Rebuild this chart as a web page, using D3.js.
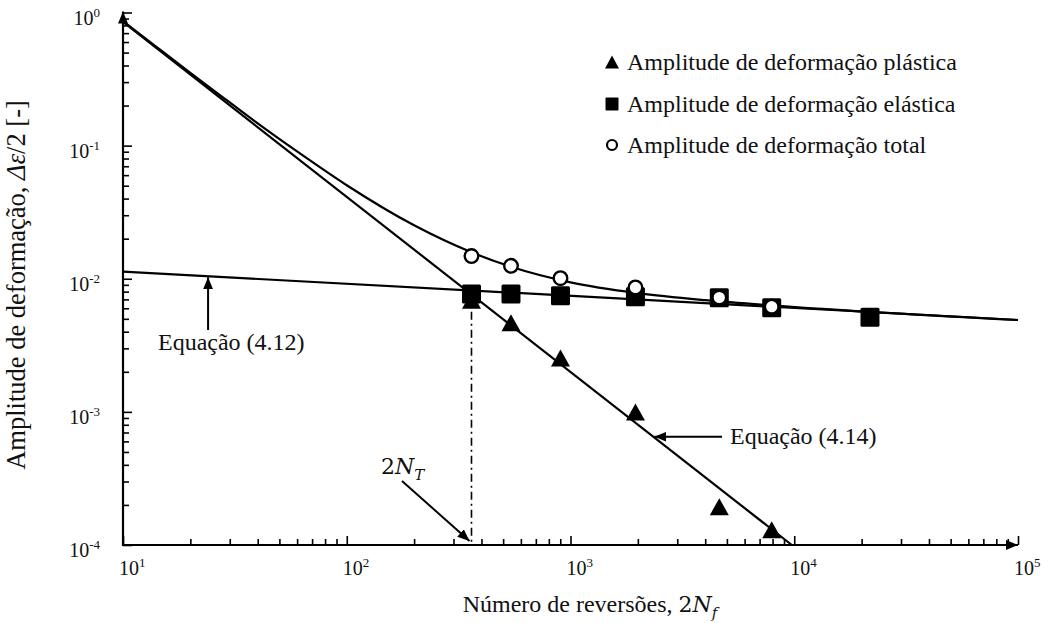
<!DOCTYPE html>
<html><head><meta charset="utf-8">
<script src="https://cdn.jsdelivr.net/npm/d3@7"></script>
<style>
html,body{margin:0;padding:0;background:#fff;}
svg{display:block;font-family:"Liberation Serif","Times New Roman",serif;}
</style></head><body>
<svg id="chart" width="1054" height="623" font-family="Liberation Serif, Times New Roman, serif"></svg>
<script>
// ---------- data ----------
const xTickValues = [10, 100, 1000, 10000, 100000];
const xTickExponents = ["1", "2", "3", "4", "5"];
const yTickValues = [1, 0.1, 0.01, 0.001, 0.0001];
const yTickExponents = ["0", "-1", "-2", "-3", "-4"];

const plasticN   = [361, 542, 902, 1951, 4624, 7930];
const plasticAmp = [0.0069, 0.00468, 0.00254, 0.00100, 0.000194, 0.00013];

const elasticN   = [361, 542, 902, 1951, 4624, 7930, 21800];
const elasticAmp = [0.00768, 0.00768, 0.00746, 0.00733, 0.00719, 0.00606, 0.00513];

const totalN     = [361, 542, 902, 1951, 4624, 7930];
const totalAmp   = [0.0148, 0.0125, 0.0101, 0.0086, 0.00723, 0.00617];

// fitted curves (end points / points)
const plasticFitN   = [10, 9750];
const plasticFitAmp = [0.85, 0.0001];
const elasticFitN   = [10, 100000];
const elasticFitAmp = [0.0113, 0.0049];
const totalFitN     = [10, 14, 20, 30, 40, 62, 100, 200, 361, 542, 1000, 2000, 4000, 9750, 100000];
const totalFitAmp   = [0.861, 0.557, 0.352, 0.211, 0.147, 0.087, 0.0504, 0.0252, 0.0158, 0.0123, 0.0094, 0.0078, 0.0069, 0.00615, 0.0049];

const transitionN = 361;            // 2N_T
const transitionAmp = [0.0077, 0.0001];

const legendLabels = ["Amplitude de deformação plástica", "Amplitude de deformação elástica", "Amplitude de deformação total"];
const xTitleText = "Número de reversões, ";
const yTitleText = "Amplitude de deformação, ";
const eq412 = "Equação (4.12)";
const eq414 = "Equação (4.14)";

// ---------- layout ----------
const svg = d3.select("#chart");
const x = d3.scaleLog().domain([10, 1e5]).range([123, 1018]);
const y = d3.scaleLog().domain([1e-4, 1]).range([545, 12.5]);
const X0 = x.range()[0], X1 = x.range()[1], Y0 = y.range()[0], Y1 = y.range()[1];

const defs = svg.append("defs");
defs.append("marker").attr("id", "ah").attr("viewBox", "0 0 12 10")
  .attr("refX", 12).attr("refY", 5).attr("markerWidth", 12).attr("markerHeight", 10)
  .attr("markerUnits", "userSpaceOnUse").attr("orient", "auto")
  .append("path").attr("d", "M0,0 L12,5 L0,10 Z").attr("fill", "#000");

// minor ticks
const minorX = [], minorY = [];
for (let e = 1; e < 5; e++) for (let k = 2; k <= 9; k++) minorX.push(k * Math.pow(10, e));
for (let e = -4; e < 0; e++) for (let k = 2; k <= 9; k++) minorY.push(k * Math.pow(10, e));

const gx = svg.append("g").attr("transform", `translate(0,${Y0})`);
gx.call(d3.axisBottom(x).tickValues(minorX).tickSize(-6).tickFormat(""));
const gx2 = svg.append("g").attr("transform", `translate(0,${Y0})`);
gx2.call(d3.axisBottom(x).tickValues(xTickValues).tickSize(-9).tickFormat(""));
const gy = svg.append("g").attr("transform", `translate(${X0},0)`);
gy.call(d3.axisLeft(y).tickValues(minorY).tickSize(-6).tickFormat(""));
const gy2 = svg.append("g").attr("transform", `translate(${X0},0)`);
gy2.call(d3.axisLeft(y).tickValues(yTickValues).tickSize(-9).tickFormat(""));
svg.selectAll(".domain").remove();
svg.selectAll(".tick line").attr("stroke", "#000").attr("stroke-width", 1.6);

// axis lines with arrows
svg.append("line").attr("x1", X0).attr("y1", Y0).attr("x2", X1).attr("y2", Y0)
  .attr("stroke", "#000").attr("stroke-width", 2.2).attr("marker-end", "url(#ah)");
svg.append("line").attr("x1", X0).attr("y1", Y0 + 1).attr("x2", X0).attr("y2", Y1 - 1)
  .attr("stroke", "#000").attr("stroke-width", 2.2).attr("marker-end", "url(#ah)");

// tick labels
const xl = svg.append("g").attr("font-size", 20).attr("fill", "#111");
xTickValues.forEach((v, i) => {
  const t = xl.append("text").attr("x", x(v) - 4).attr("y", 575);
  t.append("tspan").text("10");
  t.append("tspan").attr("font-size", 13).attr("dy", -8).text(xTickExponents[i]);
});
const yl = svg.append("g").attr("font-size", 20).attr("fill", "#111");
yTickValues.forEach((v, i) => {
  const t = yl.append("text").attr("x", 100).attr("y", y(v) + 12).attr("text-anchor", "end");
  t.append("tspan").text("10");
  t.append("tspan").attr("font-size", 13).attr("dy", -8).text(yTickExponents[i]);
});

// axis titles
const xt = svg.append("text").attr("x", 590).attr("y", 612).attr("text-anchor", "middle")
  .attr("font-size", 24).attr("fill", "#111");
xt.append("tspan").text(xTitleText);
xt.append("tspan").attr("font-family", "'DejaVu Serif', serif").attr("font-size", 22).text("2");
xt.append("tspan").attr("font-style", "italic").attr("font-family", "'DejaVu Serif', serif").attr("font-size", 22).text("N");
xt.append("tspan").attr("font-style", "italic").attr("font-family", "'DejaVu Serif', serif").attr("font-size", 15).attr("dy", 6).text("f");

const yt = svg.append("text").attr("transform", `translate(25,285) rotate(-90)`)
  .attr("text-anchor", "middle").attr("font-size", 26.5).attr("fill", "#111");
yt.append("tspan").text(yTitleText);
yt.append("tspan").attr("font-style", "italic").text("Δε");
yt.append("tspan").text("/2 [-]");

// ---------- fit lines ----------
const line = d3.line().x(d => x(d[0])).y(d => y(d[1]));
const toPts = (a, b) => a.map((v, i) => [v, b[i]]);
svg.append("path").datum(toPts(plasticFitN, plasticFitAmp)).attr("d", line)
  .attr("fill", "none").attr("stroke", "#000").attr("stroke-width", 2.2);
svg.append("path").datum(toPts(elasticFitN, elasticFitAmp)).attr("d", line)
  .attr("fill", "none").attr("stroke", "#000").attr("stroke-width", 2.2);
svg.append("path").datum(toPts(totalFitN, totalFitAmp)).attr("d", line.curve(d3.curveMonotoneX))
  .attr("fill", "none").attr("stroke", "#000").attr("stroke-width", 2.2);

// 2N_T dash-dot
svg.append("line").attr("x1", x(transitionN)).attr("x2", x(transitionN))
  .attr("y1", y(transitionAmp[0])).attr("y2", y(transitionAmp[1]))
  .attr("stroke", "#000").attr("stroke-width", 1.6).attr("stroke-dasharray", "8,4,2,4");

// ---------- markers ----------
const triPath = (w, h) => `M0,${-h / 2}L${w / 2},${h / 2}L${-w / 2},${h / 2}Z`;
svg.append("g").selectAll("path").data(toPts(plasticN, plasticAmp)).join("path")
  .attr("d", triPath(19, 17)).attr("transform", d => `translate(${x(d[0])},${y(d[1])})`).attr("fill", "#000");
svg.append("g").selectAll("rect").data(toPts(elasticN, elasticAmp)).join("rect")
  .attr("x", d => x(d[0]) - 9.5).attr("y", d => y(d[1]) - 9.5).attr("width", 19).attr("height", 19)
  .attr("rx", 1.5).attr("fill", "#000");
svg.append("g").selectAll("circle").data(toPts(totalN, totalAmp)).join("circle")
  .attr("cx", d => x(d[0])).attr("cy", d => y(d[1])).attr("r", 6.8)
  .attr("fill", "#fff").attr("stroke", "#000").attr("stroke-width", 2.4);

// ---------- annotations ----------
const ann = svg.append("g").attr("font-size", 24).attr("fill", "#111");
// Equação (4.12) -> elastic line at N = 24
const a12N = 24, a12A = elasticFitAmp[0] * Math.pow(elasticFitAmp[1] / elasticFitAmp[0], Math.log10(a12N / 10) / 4);
svg.append("line").attr("x1", x(a12N)).attr("y1", 330).attr("x2", x(a12N)).attr("y2", y(a12A) + 1)
  .attr("stroke", "#000").attr("stroke-width", 2).attr("marker-end", "url(#ah)");
ann.append("text").attr("x", 158).attr("y", 350).text(eq412);
// Equação (4.14) -> plastic line at amplitude 6.5e-4
const a14A = 0.00065;
const a14N = Math.pow(10, Math.log10(plasticFitN[0]) + Math.log10(a14A / plasticFitAmp[0]) / (Math.log10(plasticFitAmp[1] / plasticFitAmp[0]) / Math.log10(plasticFitN[1] / plasticFitN[0])));
svg.append("line").attr("x1", 722).attr("y1", y(a14A)).attr("x2", x(a14N) + 1).attr("y2", y(a14A))
  .attr("stroke", "#000").attr("stroke-width", 2).attr("marker-end", "url(#ah)");
ann.append("text").attr("x", 730).attr("y", y(a14A) + 7).text(eq414);
// 2N_T
const nt = ann.append("text").attr("x", 381).attr("y", 474).attr("font-family", "'DejaVu Serif', serif").attr("font-size", 22);
nt.append("tspan").text("2");
nt.append("tspan").attr("font-style", "italic").text("N");
nt.append("tspan").attr("font-style", "italic").attr("font-size", 15).attr("dy", 6).text("T");
svg.append("line").attr("x1", 402).attr("y1", 481).attr("x2", x(transitionN) - 2).attr("y2", Y0 - 4)
  .attr("stroke", "#000").attr("stroke-width", 2).attr("marker-end", "url(#ah)");

// ---------- legend ----------
const lg = svg.append("g").attr("font-size", 24).attr("fill", "#111");
const legY = [62, 104, 145];
lg.append("path").attr("d", triPath(14, 13)).attr("transform", `translate(612,${legY[0]})`).attr("fill", "#000");
lg.append("rect").attr("x", 605.5).attr("y", legY[1] - 6.5).attr("width", 13).attr("height", 13).attr("rx", 1).attr("fill", "#000");
lg.append("circle").attr("cx", 612).attr("cy", legY[2]).attr("r", 5).attr("fill", "#fff").attr("stroke", "#000").attr("stroke-width", 2.2);
legendLabels.forEach((s, i) => lg.append("text").attr("x", 627).attr("y", legY[i] + 8).text(s));
</script>
</body></html>
